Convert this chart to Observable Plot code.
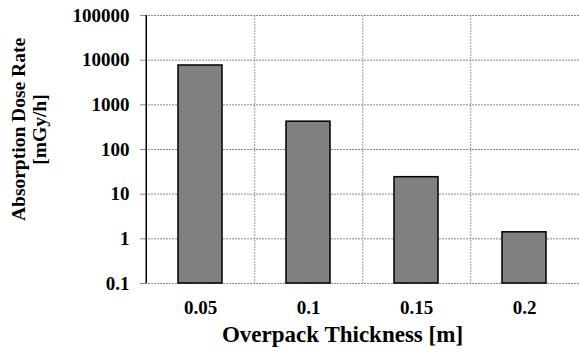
<!DOCTYPE html>
<html>
<head>
<meta charset="utf-8">
<script src="https://cdn.jsdelivr.net/npm/d3@7"></script>
<script src="https://cdn.jsdelivr.net/npm/@observablehq/plot@0.6"></script>
<style>
  html, body { margin: 0; padding: 0; background: #fff; }
  #chart svg { display: block; }
</style>
</head>
<body>
<div id="chart"></div>
<script>
const thickness = ["0.05", "0.1", "0.15", "0.2"];
const doseRate = [7600, 420, 24, 1.4];
const yTicks = [0.1, 1, 10, 100, 1000, 10000, 100000];
const xTitle = "Overpack Thickness [m]";
const yTitle = "Absorption Dose Rate\n[mGy/h]";

const data = thickness.map((t, i) => ({t, v: doseRate[i], base: 0.1}));

const W = 579, H = 351, mL = 145, mR = 0, mT = 15, mB = 68;
const step = (W - mL - mR) / thickness.length;
const font = "'Liberation Serif', 'Times New Roman', serif";

const chart = Plot.plot({
  width: W,
  height: H,
  marginLeft: mL,
  marginRight: mR,
  marginTop: mT,
  marginBottom: mB,
  style: {fontFamily: font, fontWeight: "bold", fontSize: "18px", color: "#000", background: "#fff"},
  x: {type: "band", domain: thickness, paddingInner: 0.594, paddingOuter: 0.297},
  y: {type: "log", domain: [0.1, 100000]},
  marks: [
    Plot.ruleY(yTicks, {stroke: "#888", strokeWidth: 1, strokeDasharray: "2,1"}),
    Plot.ruleX(thickness.slice(0, 3), {x: d => d, dx: step / 2, stroke: "#999", strokeWidth: 1, strokeDasharray: "2,1"}),
    Plot.barY(data, {x: "t", y1: "base", y2: "v", fill: "#808080", stroke: "#000", strokeWidth: 1.5}),
    Plot.axisY({ticks: yTicks, tickFormat: d => String(d), tickSize: 5, tickPadding: 11, stroke: "#888", label: null, fontSize: 19, fontWeight: "bold", fill: "#000"}),
    Plot.axisX({tickSize: 0, tickPadding: 17, label: null, fontSize: 19, fontWeight: "bold", fill: "#000"}),
    Plot.ruleX([thickness[0]], {dx: -step / 2, y1: 0.1, y2: 100000, stroke: "#000", strokeWidth: 1.5}),
    Plot.text([yTitle], {frameAnchor: "left", textAnchor: "middle", dx: -117, dy: -20, rotate: -90, fontSize: 19.5, fontWeight: "bold", lineHeight: 1.1}),
    Plot.text([xTitle], {frameAnchor: "bottom", dy: 58, dx: -20, fontSize: 23, fontWeight: "bold"})
  ]
});
document.getElementById("chart").appendChild(chart);
</script>
</body>
</html>
